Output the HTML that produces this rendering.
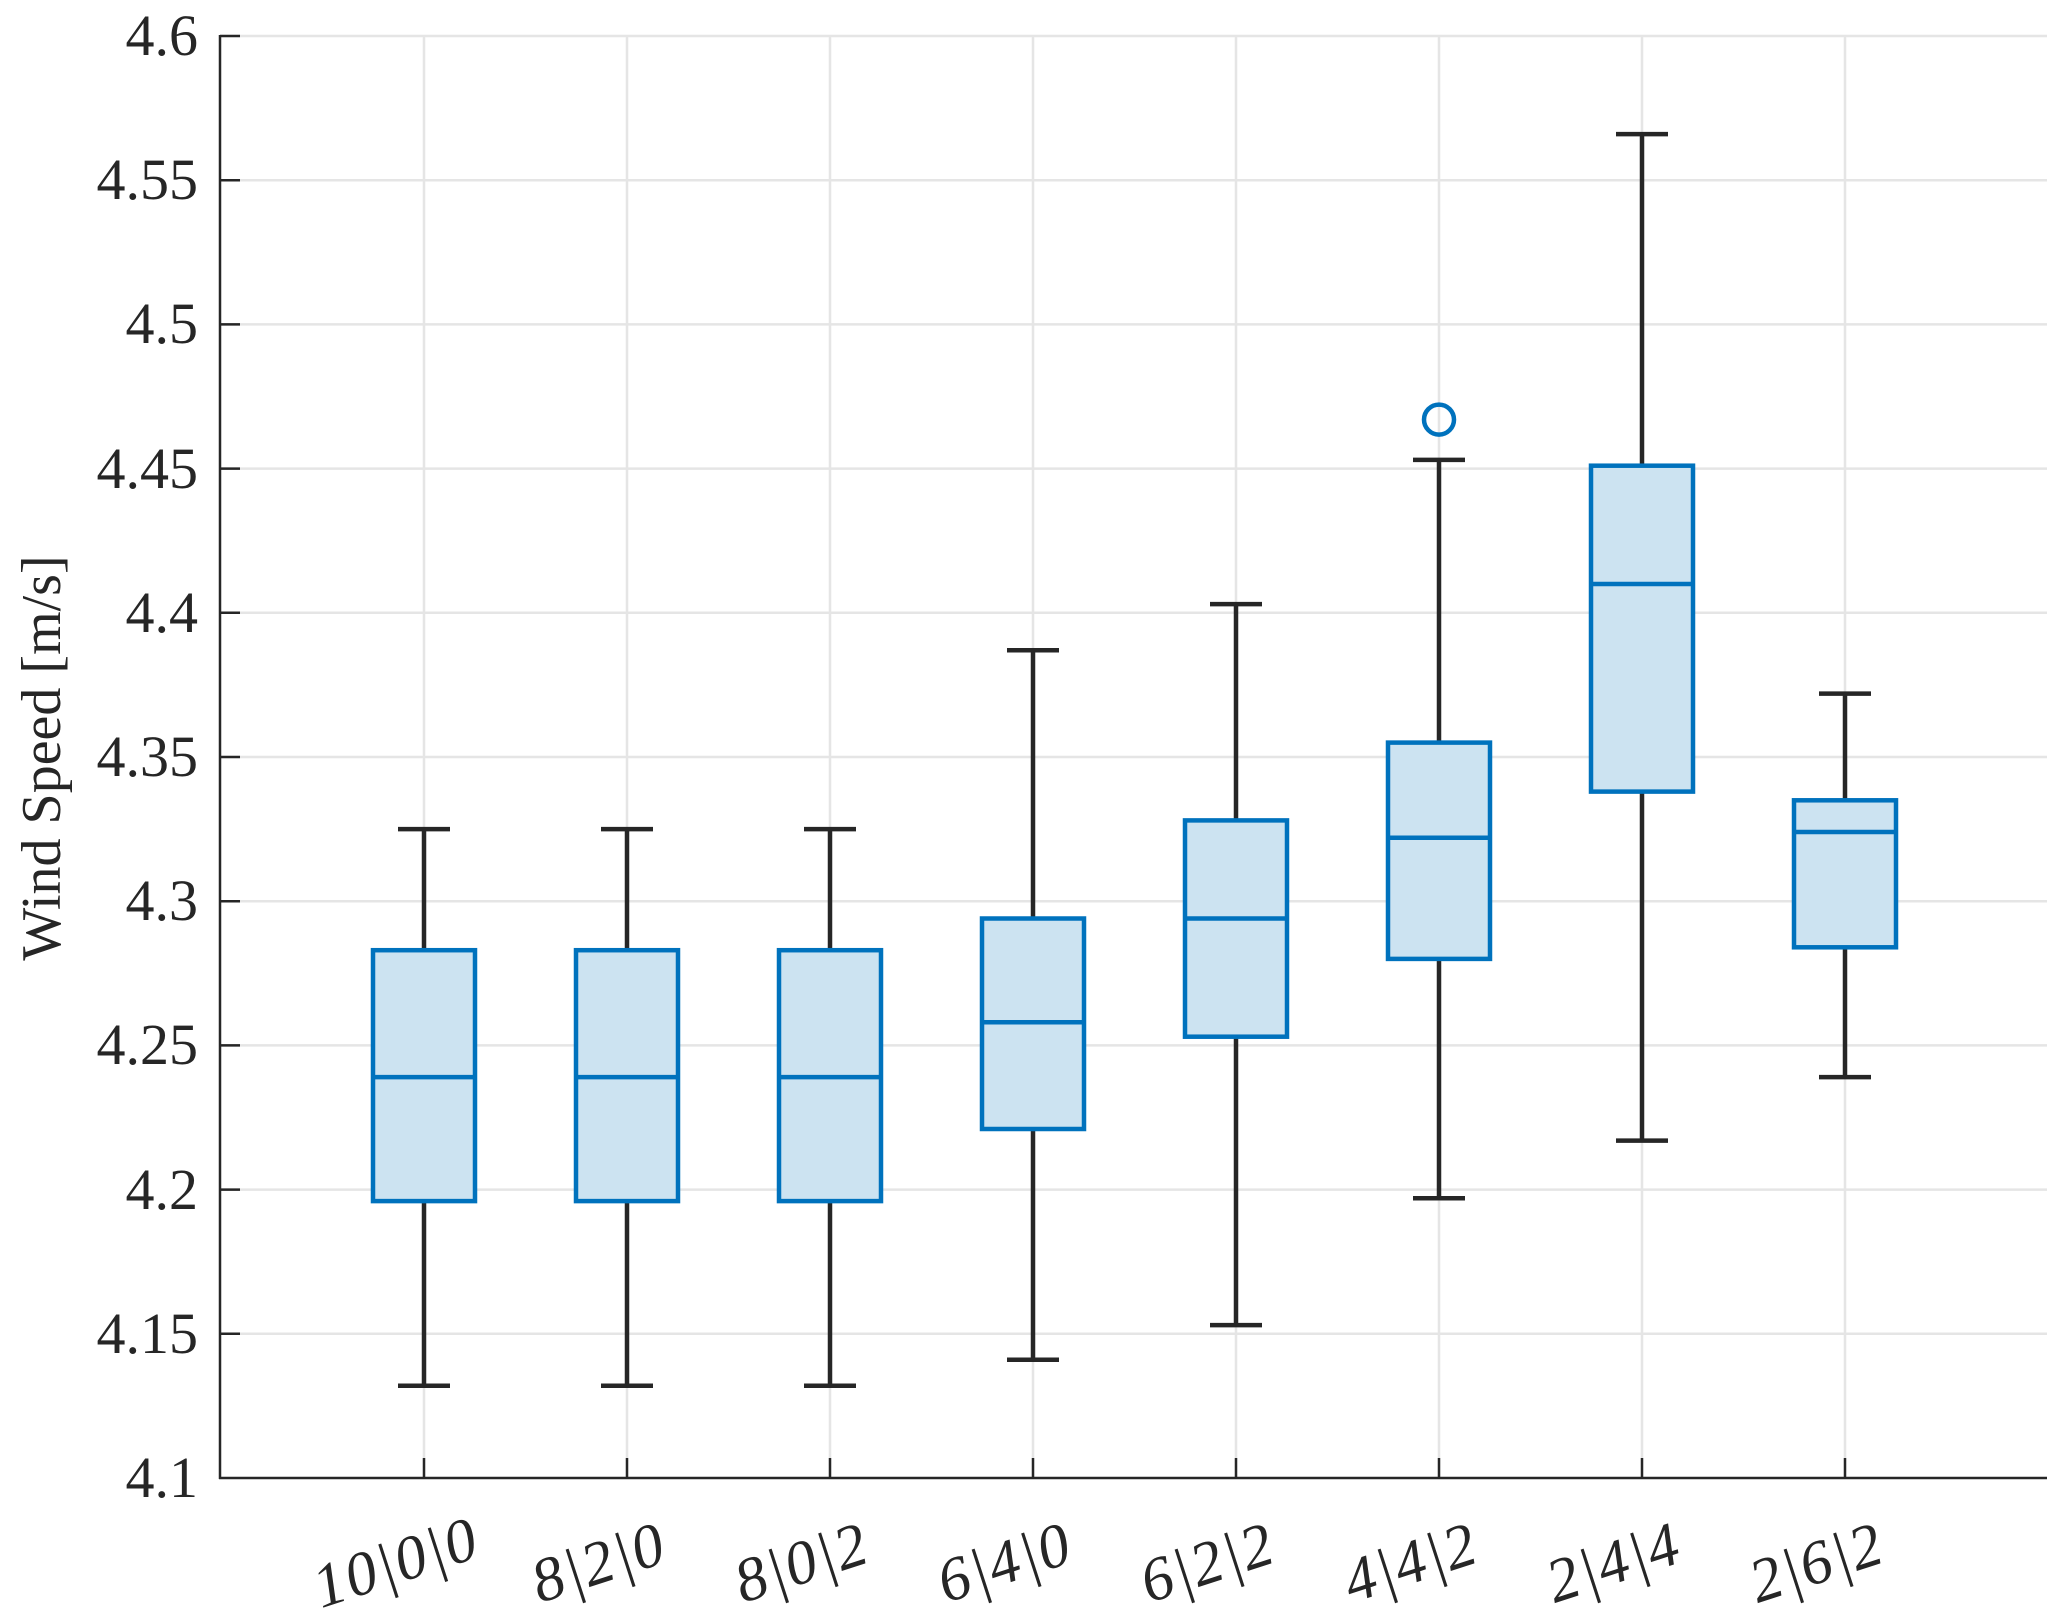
<!DOCTYPE html>
<html><head><meta charset="utf-8"><style>body{margin:0;background:#fff}svg{display:block}text{font-family:"Liberation Serif","DejaVu Serif",serif}</style></head><body>
<svg width="2067" height="1615" xmlns="http://www.w3.org/2000/svg" fill="#262626">
<g stroke="#e5e5e5" stroke-width="2.5">
<line x1="220" x2="2047" y1="36" y2="36"/><line x1="220" x2="2047" y1="180.2" y2="180.2"/><line x1="220" x2="2047" y1="324.4" y2="324.4"/><line x1="220" x2="2047" y1="468.6" y2="468.6"/><line x1="220" x2="2047" y1="612.8" y2="612.8"/><line x1="220" x2="2047" y1="757" y2="757"/><line x1="220" x2="2047" y1="901.2" y2="901.2"/><line x1="220" x2="2047" y1="1045.4" y2="1045.4"/><line x1="220" x2="2047" y1="1189.6" y2="1189.6"/><line x1="220" x2="2047" y1="1333.8" y2="1333.8"/>
<line x1="424" x2="424" y1="36" y2="1478"/><line x1="627" x2="627" y1="36" y2="1478"/><line x1="830" x2="830" y1="36" y2="1478"/><line x1="1033" x2="1033" y1="36" y2="1478"/><line x1="1236" x2="1236" y1="36" y2="1478"/><line x1="1439" x2="1439" y1="36" y2="1478"/><line x1="1642" x2="1642" y1="36" y2="1478"/><line x1="1845" x2="1845" y1="36" y2="1478"/>
</g>
<g stroke="#262626" stroke-width="2.5">
<line x1="220" y1="35" x2="220" y2="1479"/><line x1="219" y1="1478" x2="2047" y2="1478"/>
<line x1="220" x2="240" y1="36" y2="36"/><line x1="220" x2="240" y1="180.2" y2="180.2"/><line x1="220" x2="240" y1="324.4" y2="324.4"/><line x1="220" x2="240" y1="468.6" y2="468.6"/><line x1="220" x2="240" y1="612.8" y2="612.8"/><line x1="220" x2="240" y1="757" y2="757"/><line x1="220" x2="240" y1="901.2" y2="901.2"/><line x1="220" x2="240" y1="1045.4" y2="1045.4"/><line x1="220" x2="240" y1="1189.6" y2="1189.6"/><line x1="220" x2="240" y1="1333.8" y2="1333.8"/>
<line x1="424" x2="424" y1="1478" y2="1458"/><line x1="627" x2="627" y1="1478" y2="1458"/><line x1="830" x2="830" y1="1478" y2="1458"/><line x1="1033" x2="1033" y1="1478" y2="1458"/><line x1="1236" x2="1236" y1="1478" y2="1458"/><line x1="1439" x2="1439" y1="1478" y2="1458"/><line x1="1642" x2="1642" y1="1478" y2="1458"/><line x1="1845" x2="1845" y1="1478" y2="1458"/>
</g>
<g font-size="58" text-anchor="end">
<text x="198" y="55">4.6</text><text x="198" y="199">4.55</text><text x="198" y="343">4.5</text><text x="198" y="488">4.45</text><text x="198" y="632">4.4</text><text x="198" y="776">4.35</text><text x="198" y="920">4.3</text><text x="198" y="1064">4.25</text><text x="198" y="1209">4.2</text><text x="198" y="1353">4.15</text><text x="198" y="1497">4.1</text>
</g>
<text font-size="56" text-anchor="middle" transform="translate(60,758) rotate(-90)">Wind Speed [m/s]</text>
<g font-size="62" text-anchor="middle" font-style="italic" letter-spacing="2">
<text transform="translate(402,1582) rotate(-18)">10|0|0</text>
<text transform="translate(605,1582) rotate(-18)">8|2|0</text>
<text transform="translate(808,1582) rotate(-18)">8|0|2</text>
<text transform="translate(1011,1582) rotate(-18)">6|4|0</text>
<text transform="translate(1214,1582) rotate(-18)">6|2|2</text>
<text transform="translate(1417,1582) rotate(-18)">4|4|2</text>
<text transform="translate(1620,1582) rotate(-18)">2|4|4</text>
<text transform="translate(1823,1582) rotate(-18)">2|6|2</text>
</g>
<g stroke="#262626" stroke-width="4.5" fill="none">
<path d="M424 1385.7V1201.1M424 950.2V829.1M398 1385.7H450M398 829.1H450"/>
<path d="M627 1385.7V1201.1M627 950.2V829.1M601 1385.7H653M601 829.1H653"/>
<path d="M830 1385.7V1201.1M830 950.2V829.1M804 1385.7H856M804 829.1H856"/>
<path d="M1033 1359.8V1129M1033 918.5V650.3M1007 1359.8H1059M1007 650.3H1059"/>
<path d="M1236 1325.1V1036.7M1236 820.4V604.1M1210 1325.1H1262M1210 604.1H1262"/>
<path d="M1439 1198.3V958.9M1439 742.6V459.9M1413 1198.3H1465M1413 459.9H1465"/>
<path d="M1642 1140.6V791.6M1642 465.7V134.1M1616 1140.6H1668M1616 134.1H1668"/>
<path d="M1845 1077.1V947.3M1845 800.3V693.6M1819 1077.1H1871M1819 693.6H1871"/>
</g>
<g fill="#cce3f1" stroke="#0072bd" stroke-width="4.5">
<rect x="373" y="950.2" width="102" height="250.9"/>
<rect x="576" y="950.2" width="102" height="250.9"/>
<rect x="779" y="950.2" width="102" height="250.9"/>
<rect x="982" y="918.5" width="102" height="210.5"/>
<rect x="1185" y="820.4" width="102" height="216.3"/>
<rect x="1388" y="742.6" width="102" height="216.3"/>
<rect x="1591" y="465.7" width="102" height="325.9"/>
<rect x="1794" y="800.3" width="102" height="147"/>
</g>
<g stroke="#0072bd" stroke-width="4.5" fill="none">
<path d="M373 1077.1H475M576 1077.1H678M779 1077.1H881M982 1022.3H1084M1185 918.5H1287M1388 837.8H1490M1591 584H1693M1794 832H1896"/>
<circle cx="1439" cy="419.6" r="15"/>
</g>
</svg>
</body></html>
